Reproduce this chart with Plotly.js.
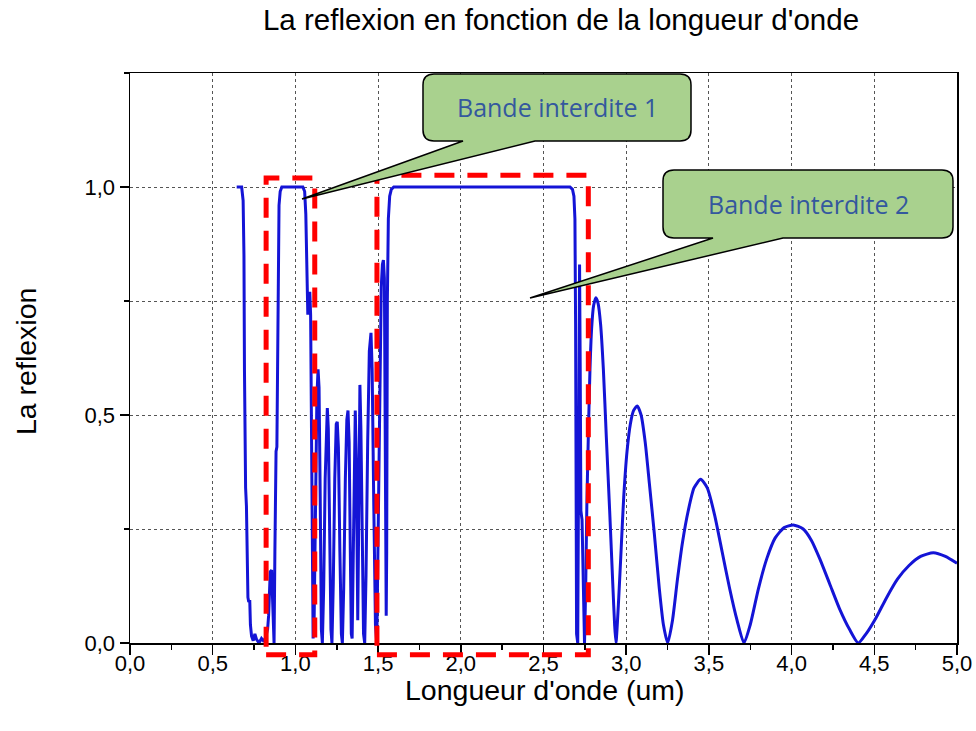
<!DOCTYPE html>
<html>
<head>
<meta charset="utf-8">
<script src="https://cdn.plot.ly/plotly-3.0.1.min.js"></script>
<style>html,body{margin:0;padding:0;background:#fff;}#chart{width:976px;height:731px;}</style>
</head>
<body>
<div id="chart"></div>
<script>
// ---- Data ----
// Band-gap region (sharp edges, rapid oscillations)
const lambdaA = [0.645,0.675,0.684,0.689,0.692,0.695,0.699,0.704,0.708,0.713,0.718,0.724,0.728,0.735,0.745,0.755,0.765,0.78,0.795,0.81,0.822,0.832,0.838,0.843,0.848,0.856,0.862,0.866,0.871,0.876,0.879,0.883,0.888,0.892,0.896,0.901,0.908,0.918,
  1.045,1.056,1.063,1.069,1.075,1.081,1.087,1.092,1.097,1.102,1.107,1.113,1.121,1.13,1.137,1.143,1.15,1.157,1.163,1.171,1.18,1.188,1.193,1.199,1.207,1.215,1.221,1.229,1.238,1.247,1.253,1.26,1.269,1.278,1.284,1.292,1.302,1.311,1.318,1.325,1.332,1.338,1.343,1.349,1.356,1.362,1.368,1.374,1.377,1.381,1.386,1.39,1.396,1.404,1.412,1.419,1.427,1.437,1.447,1.457,1.464,1.474,1.484,1.492,1.50,1.51,1.519,1.526,1.532,1.538,1.544,1.549,1.552,1.556,1.562,1.57,1.58,1.595,
  2.66,2.675,2.684,2.69,2.694,2.697,2.700,2.707,2.713,2.718,2.722,2.726,2.733,2.741,2.748];
const reflA = [1.0,1.0,0.97,0.85,0.6,0.345,0.34,0.30,0.18,0.10,0.09,0.094,0.04,0.015,0.005,0.02,0.008,0.0,0.01,0.003,0.015,0.03,0.06,0.14,0.156,0.16,0.10,0.02,0.0,0.2,0.40,0.42,0.43,0.6,0.85,0.96,0.99,1.0,
  1.0,0.99,0.94,0.82,0.72,0.74,0.77,0.72,0.45,0.15,0.01,0.04,0.3,0.54,0.6,0.56,0.32,0.03,0.0,0.12,0.36,0.5,0.515,0.47,0.25,0.03,0.0,0.13,0.36,0.48,0.485,0.43,0.2,0.02,0.0,0.12,0.36,0.49,0.51,0.44,0.2,0.02,0.01,0.2,0.46,0.51,0.4,0.12,0.05,0.2,0.5,0.566,0.47,0.2,0.02,0.0,0.15,0.44,0.64,0.68,0.6,0.3,0.04,0.0,0.2,0.55,0.78,0.83,0.84,0.8,0.5,0.06,0.2,0.75,0.93,0.98,0.995,1.0,
  1.0,0.995,0.98,0.93,0.7,0.3,0.02,0.0,0.5,0.83,0.6,0.29,0.27,0.1,0.0];
// Long-wavelength tail (smooth decaying oscillations)
const lambdaB = [2.748,2.755,2.762,2.772,2.781,2.791,2.803,2.817,2.83,2.845,2.862,2.88,2.90,2.92,2.93,2.938,2.955,2.97,2.985,3.005,3.025,3.045,3.067,3.09,3.115,3.14,3.17,3.20,3.225,3.251,3.28,3.31,3.34,3.375,3.41,3.45,3.49,3.535,3.58,3.625,3.67,3.712,3.75,3.80,3.85,3.90,3.955,4.01,4.07,4.12,4.17,4.23,4.29,4.35,4.403,4.45,4.51,4.575,4.64,4.71,4.78,4.857,4.93,5.0];
const reflB = [0.0,0.12,0.3,0.47,0.6,0.69,0.74,0.757,0.745,0.7,0.6,0.45,0.29,0.12,0.04,0.0,0.1,0.21,0.32,0.42,0.48,0.51,0.52,0.5,0.44,0.35,0.24,0.12,0.04,0.0,0.05,0.14,0.22,0.29,0.34,0.359,0.34,0.28,0.2,0.12,0.05,0.0,0.04,0.12,0.185,0.23,0.253,0.259,0.25,0.225,0.185,0.13,0.075,0.03,0.0,0.02,0.055,0.10,0.14,0.17,0.19,0.198,0.19,0.175];

const xTickVals = [0,0.5,1.0,1.5,2.0,2.5,3.0,3.5,4.0,4.5,5.0];
const yTickVals = [0,0.5,1.0];
const bandLabels = ['Bande interdite 1','Bande interdite 2'];
const chartTitle = "La reflexion en fonction de la longueur d'onde";
const xTitle = "Longueur d'onde (um)";
const yTitle = 'La reflexion';

// ---- Layout helpers ----
const X_RANGE = [0,5], Y_RANGE = [0,1.25];
const M = {l:130, r:19, t:73, b:88};
const W = 976, H = 731;
const PW = W - M.l - M.r, PH = H - M.t - M.b;
const px2p = (px,py) => [(px - M.l)/PW, (H - M.b - py)/PH];
const d2p = (x,y) => [(x - X_RANGE[0])/(X_RANGE[1]-X_RANGE[0]), (y - Y_RANGE[0])/(Y_RANGE[1]-Y_RANGE[0])];

function calloutPath(x0,y0,x1,y1,r,b0,b1,tx,ty){
  const pts = [
    ['M',x0+r,y0],['L',x1-r,y0],['Q',x1,y0,x1,y0+r],['L',x1,y1-r],['Q',x1,y1,x1-r,y1],
    ['L',b1,y1],['L',tx,ty],['L',b0,y1],['L',x0+r,y1],['Q',x0,y1,x0,y1-r],['L',x0,y0+r],['Q',x0,y0,x0+r,y0]
  ];
  let s='';
  pts.forEach(c=>{
    s += c[0];
    for(let i=1;i<c.length;i+=2){
      const p = px2p(c[i],c[i+1]);
      s += ' ' + p[0].toFixed(5) + ',' + p[1].toFixed(5);
    }
    s += ' ';
  });
  return s + 'Z';
}
function dashRect(x0,x1,y0,y1){
  const a = d2p(x0,y0), b = d2p(x1,y1);
  return {type:'rect', xref:'paper', yref:'paper', x0:a[0], y0:a[1], x1:b[0], y1:b[1],
    line:{color:'#ff0000', width:5, dash:'20px,13px'}, fillcolor:'rgba(0,0,0,0)', layer:'above'};
}

const blue = '#1414d6';
const traces = [
  {x: lambdaA, y: reflA, type:'scatter', mode:'lines', line:{color:blue, width:3}, hoverinfo:'skip'},
  {x: lambdaB, y: reflB, type:'scatter', mode:'lines', line:{color:blue, width:3, shape:'spline', smoothing:0.6}, hoverinfo:'skip'}
];

const FAM = 'Liberation Sans, Arial, sans-serif';
const axisFont = {family:FAM, size:22, color:'#000'};
const titleFont = {family:FAM, size:29.5, color:'#000'};
const labelFont = {family:FAM, size:28.5, color:'#000'};

const c1 = px2p(557,107), c2 = px2p(808,204);
const xt = px2p(545,690), yt = px2p(26,362);
const layout = {
  width:W, height:H,
  margin:M,
  paper_bgcolor:'#fff', plot_bgcolor:'#fff',
  separators:', ',
  showlegend:false,
  title:{text:chartTitle, font:titleFont,
    xref:'container', yref:'container', x:561/W, y:1-20/H, xanchor:'center', yanchor:'middle'},
  xaxis:{range:X_RANGE, tickvals:xTickVals, tickformat:'.1f', ticks:'outside', ticklen:10, tickwidth:1.5, tickcolor:'#000',
    ticklabelstandoff:-10,
    showline:true, linecolor:'#000', linewidth:1.5, mirror:true, zeroline:false,
    showgrid:true, gridcolor:'#555', griddash:'dot', gridwidth:1,
    minor:{dtick:0.25, tick0:0, ticks:'outside', ticklen:5, tickwidth:1.5, tickcolor:'#000', showgrid:false},
    tickfont:axisFont},
  yaxis:{range:Y_RANGE, tickvals:yTickVals, tickformat:'.1f', ticks:'outside', ticklen:9, tickwidth:1.5, tickcolor:'#000',
    showline:true, linecolor:'#000', linewidth:1.5, mirror:true, zeroline:false,
    showgrid:true, gridcolor:'#555', griddash:'dot', gridwidth:1,
    minor:{dtick:0.25, tick0:0, ticks:'outside', ticklen:5, tickwidth:1.5, tickcolor:'#000', showgrid:true, gridcolor:'#555', griddash:'dot', gridwidth:1},
    tickfont:axisFont},
  shapes:[
    dashRect(0.823,1.117,-0.026,1.02),
    dashRect(1.493,2.771,-0.026,1.026),
    {type:'path', xref:'paper', yref:'paper', path:calloutPath(423,74,691,141,11,463,535,302,199),
      fillcolor:'#a9d18e', line:{color:'#000', width:1.5}, layer:'above'},
    {type:'path', xref:'paper', yref:'paper', path:calloutPath(663,170,953,238,11,713,783,530,298),
      fillcolor:'#a9d18e', line:{color:'#000', width:1.5}, layer:'above'}
  ],
  annotations:[
    {text:bandLabels[0], xref:'paper', yref:'paper', x:c1[0], y:c1[1], xanchor:'center', yanchor:'middle', showarrow:false,
      font:{family:'Open Sans, Noto Sans, sans-serif', size:25, color:'#34589e'}},
    {text:bandLabels[1], xref:'paper', yref:'paper', x:c2[0], y:c2[1], xanchor:'center', yanchor:'middle', showarrow:false,
      font:{family:'Open Sans, Noto Sans, sans-serif', size:25, color:'#34589e'}},
    {text:xTitle, xref:'paper', yref:'paper', x:xt[0], y:xt[1], xanchor:'center', yanchor:'middle', showarrow:false, font:labelFont},
    {text:yTitle, xref:'paper', yref:'paper', x:yt[0], y:yt[1], xanchor:'center', yanchor:'middle', showarrow:false, textangle:-90, font:labelFont}
  ]
};

Plotly.newPlot('chart', traces, layout, {displayModeBar:false, staticPlot:true});
</script>
</body>
</html>
